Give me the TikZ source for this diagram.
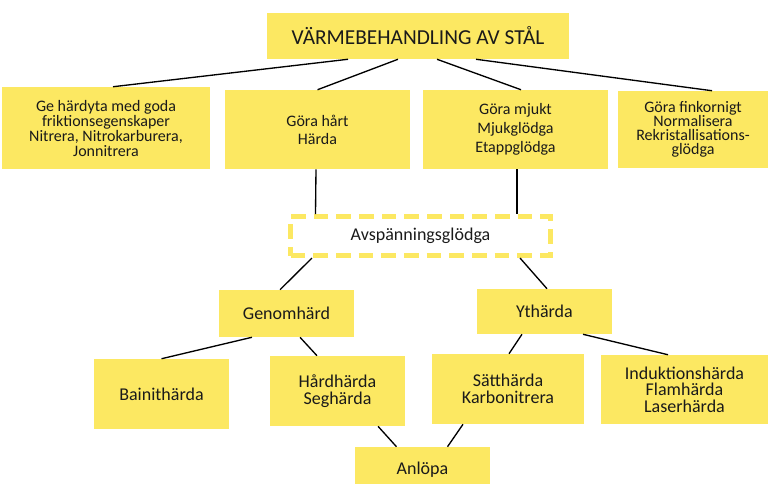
\documentclass[tikz,border=0pt]{standalone}
\usepackage{fontspec}
\setmainfont{Carlito}
\usetikzlibrary{calc}
\definecolor{boxyellow}{RGB}{252,232,98}
\definecolor{textgray}{RGB}{26,26,26}

\begin{document}
\begin{tikzpicture}[x=0.75pt,y=0.75pt]
\tikzstyle{every node}+=[inner sep=0pt, align=center, text=textgray]
\tikzstyle{yellowbox}=[fill=boxyellow]
\tikzstyle{dashbox}=[draw=boxyellow, line width=3.75pt, dash pattern=on 11pt off 6pt]
\tikzstyle{midtext}=[font=\fontsize{12}{13.5}\selectfont]
\tikzstyle{bigtext}=[font=\fontsize{13.5}{12.5}\selectfont]
\useasboundingbox (0,0) rectangle (768,-483);
\clip (0,0) rectangle (768,-483);
% top row
\node [yellowbox, minimum width=226.5pt, minimum height=34.5pt, font=\fontsize{16}{18}\selectfont] (stal) at (418,-36) {V\"ARMEBEHANDLING AV ST\AA L};
\node [yellowbox, midtext, minimum width=156pt, minimum height=61.5pt, font=\fontsize{12}{11.25}\selectfont] (ytan) at (106,-128) {Ge h\"ardyta med goda\\friktionsegenskaper\\Nitrera, Nitrokarburera,\\Jonnitrera};
\node [yellowbox, midtext, minimum width=138.75pt, minimum height=59.25pt] (hart) at (317.5,-129.5) {G\"ora h\aa rt\\H\"arda};
\node [yellowbox, minimum width=138.75pt, minimum height=59.25pt, font=\fontsize{12}{14.25}\selectfont] (mjukt) at (515.5,-129.5) {G\"ora mjukt\\Mjukgl\"odga\\Etappgl\"odga};
\node [yellowbox, minimum width=112.5pt, minimum height=57.75pt, font=\fontsize{12}{10.5}\selectfont] (fin) at (693,-129.5) {G\"ora finkornigt\\Normalisera\\Rekristallisations-\\gl\"odga};
% middle
\node [dashbox, bigtext, minimum width=195pt, minimum height=29.25pt] (avsp) at (420.5,-236) {Avsp\"anningsgl\"odga};
\node [yellowbox, bigtext, minimum width=101.25pt, minimum height=35.25pt] (genom) at (286.5,-313.5) {Genomh\"ard};
\node [yellowbox, bigtext, minimum width=101.25pt, minimum height=33.75pt] (yt) at (544.5,-311.5) {Yth\"arda};
% bottom row
\node [yellowbox, bigtext, minimum width=101.25pt, minimum height=52.5pt] (bainit) at (161.5,-394) {Bainith\"arda};
\node [yellowbox, bigtext, minimum width=101.25pt, minimum height=52.5pt] (hard) at (337.5,-391) {H\aa rdh\"arda\\Segh\"arda};
\node [yellowbox, bigtext, minimum width=114pt, minimum height=52.5pt] (satt) at (508,-389) {S\"atth\"arda\\Karbonitrera};
\node [yellowbox, bigtext, minimum width=125.25pt, minimum height=51.75pt] (induk) at (684.5,-389.5) {Induktionsh\"arda\\Flamh\"arda\\Laserh\"arda};
\node [yellowbox, bigtext, minimum width=101.25pt, minimum height=34.5pt] (anlop) at (422.5,-470) {Anl\"opa};
% connectors
\draw [black, line width=1pt] ($(stal.south)+(-70,0)$) -- ($(ytan.north)+(7,0)$);
\draw [black, line width=1pt] ($(stal.south)+(-20,0)$) -- (hart.north);
\draw [black, line width=1pt] ($(stal.south)+(19,0)$) -- ($(mjukt.north)+(5.5,0)$);
\draw [black, line width=1pt] ($(stal.south)+(58,0)$) -- ($(fin.north)+(19,0)$);
\draw [black, line width=1pt] ($(hart.south)+(-1.5,0)$) -- ($(avsp.north)+(-105,0)$);
\draw [black, line width=1pt] ($(mjukt.south)+(1.5,0)$) -- ($(avsp.north)+(96.5,0)$);
\draw [black, line width=1pt] ($(avsp.south)+(-108.5,0)$) -- ($(genom.north)+(-6.5,0)$);
\draw [black, line width=1pt] ($(avsp.south)+(99.5,0)$) -- ($(yt.north)+(2.5,0)$);
\draw [black, line width=1pt] ($(genom.south)+(-34.5,0)$) -- (bainit.north);
\draw [black, line width=1pt] ($(genom.south)+(13.5,0)$) -- ($(hard.north)+(-20.5,0)$);
\draw [black, line width=1pt] ($(yt.south)+(-22.5,0)$) -- ($(satt.north)+(1,0)$);
\draw [black, line width=1pt] ($(yt.south)+(38.5,0)$) -- ($(induk.north)+(-16.5,0)$);
\draw [black, line width=1pt] ($(hard.south)+(40.5,0)$) -- ($(anlop.north)+(-26,0)$);
\draw [black, line width=1pt] ($(satt.south)+(-45,0)$) -- ($(anlop.north)+(25,0)$);
\end{tikzpicture}
\end{document}
